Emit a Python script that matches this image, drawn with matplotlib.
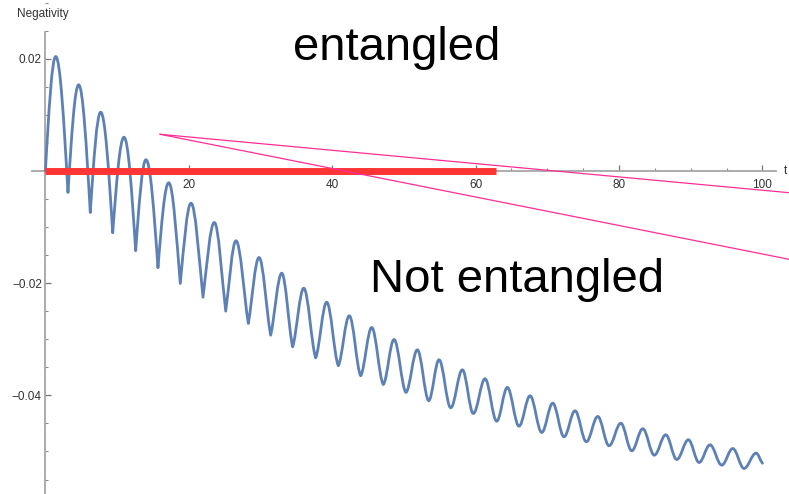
import matplotlib
matplotlib.use("Agg")
import matplotlib.pyplot as plt
from matplotlib.path import Path
from matplotlib.patches import PathPatch
from matplotlib.ticker import MultipleLocator, FixedLocator

plt.rcParams["font.family"] = ["Liberation Sans", "DejaVu Sans"]

# local maxima of the negativity: time and value
peak_t = [1.44, 4.64, 7.71, 10.96, 14.03, 17.20, 20.31, 23.56, 26.58, 29.79,
          32.96, 36.03, 39.23, 42.38, 45.51, 48.62, 51.87, 54.90, 58.15, 61.31,
          64.42, 67.59, 70.75, 73.86, 77.03, 80.25, 83.31, 86.51, 89.67, 92.69,
          95.86, 99.11]
peak_n = [0.02041, 0.01537, 0.01048, 0.00602, 0.00200, -0.00210, -0.00574,
          -0.00918, -0.01244, -0.01542, -0.01822, -0.02089, -0.02339, -0.02581,
          -0.02790, -0.03004, -0.03187, -0.03365, -0.03544, -0.03704, -0.03859,
          -0.04007, -0.04139, -0.04275, -0.04376, -0.04496, -0.04595, -0.04702,
          -0.04791, -0.04881, -0.04947, -0.05030]

# local minima between the maxima
trough_t = [3.15, 6.26, 9.39, 12.59, 15.70, 18.81, 21.98, 25.15, 28.30, 31.42,
            34.49, 37.70, 40.85, 43.97, 47.13, 50.29, 53.46, 56.53, 59.68, 62.94,
            66.05, 69.22, 72.33, 75.44, 78.61, 81.77, 84.92, 88.05, 91.16, 94.32,
            97.43]
trough_n = [-0.00383, -0.00740, -0.01102, -0.01422, -0.01725, -0.02005, -0.02250,
            -0.02499, -0.02718, -0.02927, -0.03134, -0.03330, -0.03472, -0.03651,
            -0.03806, -0.03948, -0.04096, -0.04221, -0.04323, -0.04460, -0.04549,
            -0.04661, -0.04738, -0.04827, -0.04898, -0.04988, -0.05066, -0.05143,
            -0.05196, -0.05244, -0.05303]
# sharpness of each minimum, 1 = cusp, 0 = round
trough_cusp = [1.0, 1.0, 1.0, 1.0, 1.0, 0.9, 0.8, 0.7, 0.6, 0.5, 0.4, 0.3,
               0.25, 0.2, 0.15, 0.1, 0.05] + [0.0] * 14

start_t, start_n = 0.0, 0.0
end_t, end_n = 100.0, -0.0521

entangled_until = 62.8
guide_from = (16.0, 0.00654)
guide_to = [(103.7, -0.00387), (103.7, -0.01574)]


def handle(x0, y0, x1, y1, s):
    # bezier handle leaving (x0, y0) towards (x1, y1)
    k = 0.364 + (0.326 - 0.364) * s
    return (x0 + k * (x1 - x0), y0 + 0.512 * s * (y1 - y0))


def curve_path():
    knots = [(start_t, start_n, 1.0)]
    for i in range(len(peak_t)):
        knots.append((peak_t[i], peak_n[i], 0.0))
        if i < len(trough_t):
            knots.append((trough_t[i], trough_n[i], trough_cusp[i]))
    knots.append((end_t, end_n, 0.5))

    verts = [knots[0][:2]]
    codes = [Path.MOVETO]
    for a, b in zip(knots[:-1], knots[1:]):
        verts.append(handle(a[0], a[1], b[0], b[1], a[2]))
        verts.append(handle(b[0], b[1], a[0], a[1], b[2]))
        verts.append(b[:2])
        codes += [Path.CURVE4] * 3
    return Path(verts, codes)


fig = plt.figure(figsize=(7.89, 4.94), dpi=100)
ax = fig.add_axes([0, 0, 1, 1])
ax.set_xlim(-6.33, 103.7)
ax.set_ylim(-0.05758, 0.03048)
ax.patch.set_visible(False)

axis_grey = "#a6a6a6"
for side in ["top", "right"]:
    ax.spines[side].set_visible(False)
ax.spines["left"].set_position(("data", 0))
ax.spines["bottom"].set_position(("data", 0))
ax.spines["left"].set_bounds(-0.0576, 0.0248)
ax.spines["bottom"].set_bounds(-1.9, 101.9)
for side in ["left", "bottom"]:
    ax.spines[side].set_color(axis_grey)
    ax.spines[side].set_linewidth(1.3)

ax.xaxis.set_major_locator(FixedLocator([20, 40, 60, 80, 100]))
ax.xaxis.set_minor_locator(FixedLocator([v for v in range(5, 101, 5) if v % 20]))
ax.yaxis.set_major_locator(FixedLocator([-0.04, -0.02, 0.02]))
ax.yaxis.set_minor_locator(MultipleLocator(0.005))
ax.set_xticklabels(["20", "40", "60", "80", "100"])
ax.set_yticklabels(["\u22120.04", "\u22120.02", "0.02"])
ax.tick_params(which="major", direction="in", length=4, width=0.9,
               color="#777777", labelsize=8.5, labelcolor="#333333")
ax.tick_params(which="minor", direction="in", length=2.5, width=0.8,
               color="#8a8a8a")
ax.tick_params(axis="x", pad=5.5)
ax.tick_params(axis="y", pad=2.5)

ax.add_patch(PathPatch(curve_path(), facecolor="none", edgecolor="#5E81B5",
                       lw=2.0, capstyle="round", joinstyle="round", zorder=3))

ax.plot([0, entangled_until], [0, 0], color="#ff3535", lw=5,
        solid_capstyle="butt", zorder=4)

for gx, gy in guide_to:
    ax.plot([guide_from[0], gx], [guide_from[1], gy], color="#ff2d95",
            lw=0.9, clip_on=False, zorder=5)

fig.text(17 / 789, 1 - 14 / 494, "Negativity", fontsize=8.5, color="#333333",
         ha="left", va="center")
fig.text(784 / 789, 1 - 171 / 494, "t", fontsize=8.5, color="#333333",
         ha="left", va="center")

fig.text(396.5 / 789, 1 - 60 / 494, "entangled", fontsize=34, color="black",
         ha="center", va="baseline")
fig.text(517.5 / 789, 1 - 291.5 / 494, "Not entangled", fontsize=34,
         color="black", ha="center", va="baseline")

fig.savefig("out.png", dpi=100)
plt.close(fig)
